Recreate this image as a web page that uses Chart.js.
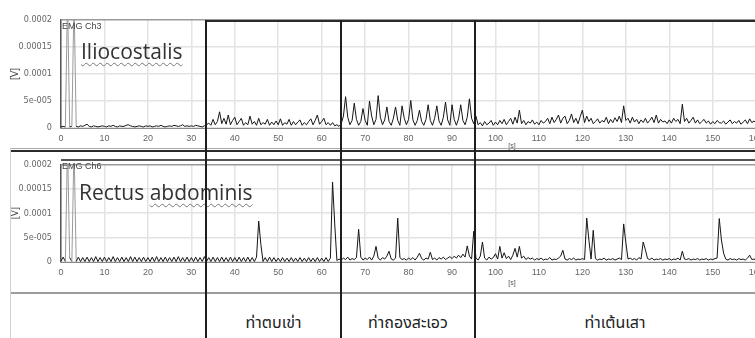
<!DOCTYPE html>
<html>
<head>
<meta charset="utf-8">
<script src="https://cdn.jsdelivr.net/npm/chart.js@4.4.1/dist/chart.umd.min.js"></script>
<style>
  html, body { margin: 0; padding: 0; background: #fff; overflow: hidden; }
  #wrap { position: relative; width: 755px; height: 338px; overflow: hidden; background: #fff; }
  .pane { position: absolute; left: 0; }
  .rule { position: absolute; }
  .tag { position: absolute; font: 9px "Liberation Sans", Arial, sans-serif; color: #444; white-space: nowrap; }
  .muscle { position: absolute; font-family: "Open Sans", "Noto Sans", sans-serif; color: #333; white-space: nowrap; }
  .wavy { text-decoration: underline wavy #777; text-decoration-thickness: 1px; text-underline-offset: 3px; }
  .phase { position: absolute; font: 16px "Noto Sans Thai", "Tahoma", "DejaVu Sans", sans-serif; color: #222; white-space: nowrap; transform: translateX(-50%); }
</style>
</head>
<body>
<div id="wrap">
  <div class="pane" style="top:0"><canvas id="emgTop" width="965" height="150"></canvas></div>
  <div class="pane" style="top:150px"><canvas id="emgBottom" width="965" height="143"></canvas></div>
  <div class="tag" style="left:62px;top:21px">EMG Ch3</div>
  <div class="tag" style="left:62px;top:161px">EMG Ch6</div>
  <div class="muscle wavy" style="left:81px;top:37px;font-size:21px">Iliocostalis</div>
  <div class="muscle" style="left:79px;top:178px;font-size:21px">Rectus <span class="wavy">abdominis</span></div>
</div>
<script>
// Sample interval of the rectified EMG traces, seconds
const SAMPLE_DT = 0.5;

// Channel 3 (Iliocostalis), microvolts, one value per 0.5 s from t = 0
const ch3Iliocostalis = [
  2,3,2,240,2,3,240,3,2,4, 3,5,7,3,2,4,3,2,3,4,
  3,2,4,3,5,3,2,4,3,3, 5,6,4,3,2,3,4,3,2,4,
  3,4,2,3,4,3,5,3,2,3, 4,3,5,4,3,4,6,3,4,3,
  4,3,5,4,3,2,4,6,9,5, 16,6,12,30,8,18,7,24,6,14,
  20,6,12,18,5,10,6,22,7,12, 5,18,6,10,7,16,5,11,6,13,
  6,17,5,10,7,16,5,12,6,11, 15,5,10,6,12,17,6,14,24,7,
  12,18,6,10,5,10,4,6,3,8, 22,58,20,6,14,46,16,5,12,36,
  14,5,50,22,6,16,60,20,6,15, 39,12,5,18,39,14,5,41,18,6,
  16,51,15,5,14,33,12,5,16,43, 14,5,18,41,13,5,20,48,15,5,
  43,16,5,17,43,14,6,20,54,18, 8,22,6,10,4,12,6,9,14,5,
  11,6,14,8,16,6,12,18,7,20, 9,33,8,14,6,12,9,15,7,11,
  6,14,9,12,18,8,20,10,16,24, 9,18,22,8,14,26,10,18,8,21,
  33,10,22,12,18,8,12,17,9,14, 11,20,8,16,10,19,12,22,10,41,
  14,18,9,20,11,16,8,15,10,18, 9,14,20,10,24,9,16,11,13,8,
  15,9,18,12,16,8,44,12,18,9, 14,20,9,15,8,12,16,9,13,7,
  12,8,14,10,9,13,7,11,15,8, 12,9,14,7,11,15,8,17,10,13,
  9,14,8,12,16,9,13,10,15,8, 12,10,14,9,11
];

// Channel 6 (Rectus abdominis), microvolts, one value per 0.5 s from t = 0
const ch6RectusAbdominis = [
  2,10,1,240,9,1,240,1,10,1, 9,1,10,1,9,1,11,1,9,1,
  10,1,9,1,11,1,9,1,10,1, 9,1,11,1,10,1,9,1,10,1,
  9,1,10,1,11,1,9,1,10,1, 9,1,10,1,11,1,9,1,10,1,
  9,1,10,1,9,1,11,1,9,1, 10,1,9,1,10,1,9,1,10,1,
  9,1,10,1,9,1,10,1,9,1, 10,84,36,1,9,1,10,1,9,1,
  8,1,9,1,8,1,9,1,8,1, 9,1,8,1,9,1,8,1,9,1,
  8,1,9,1,8,164,78,3,6,4, 8,5,10,4,7,5,9,67,10,4,
  8,5,10,4,12,32,8,4,9,6, 12,22,6,4,8,90,9,5,7,4,
  8,5,9,4,10,18,7,4,8,6, 20,5,8,4,9,6,10,5,8,11,
  7,12,8,14,9,16,10,33,12,6, 63,8,4,12,41,8,4,10,6,9,
  17,6,32,8,19,7,12,5,14,28, 10,32,8,12,5,9,6,8,4,7,
  5,8,4,6,5,9,4,6,5,8, 12,24,6,4,7,5,8,4,6,5,
  7,5,90,45,6,65,7,4,6,5, 8,4,6,5,7,4,6,8,5,78,
  40,6,8,5,7,4,9,6,41,25, 7,5,8,4,6,5,7,4,6,5,
  7,4,6,5,8,4,22,6,5,7, 4,6,5,7,4,6,5,7,4,6,
  5,7,8,89,45,18,6,4,7,5, 6,4,7,5,6,4,8,14,5,6,
  4,7,5,6,4,7,5,6,4,7, 5,6,4,7,5
];

// Axis ticks
const xTicks = [0,10,20,30,40,50,60,70,80,90,100,110,120,130,140,150,160,170,180,190,200];
const yTickLabels = ['0', '5e-005', '0.0001', '0.00015', '0.0002'];
const X_RANGE = [0, 207.6];
const Y_RANGE = [0, 0.0002];

// Exercise phases along the time axis (s) and their names
const phaseStarts = [33.3, 64.4, 95.3];
const phaseNames = ['ท่าตบเข่า', 'ท่าถองสะเอว', 'ท่าเต้นเสา'];

const toSeries = (uV) => uV.map((v, i) => ({ x: i * SAMPLE_DT, y: v * 1e-6 }));

// Off-scale (clipped) excursions are drawn in a lighter grey
const offScale = (ctx) =>
  (ctx.p0.parsed.y > Y_RANGE[1] || ctx.p1.parsed.y > Y_RANGE[1]) ? '#9a9a9a' : undefined;

function emgChart(canvasId, values, padTop, xAxisHeight, titlePadBottom) {
  return new Chart(document.getElementById(canvasId), {
    type: 'line',
    data: {
      datasets: [{
        data: toSeries(values),
        borderColor: '#151515',
        borderWidth: 1,
        pointRadius: 0,
        tension: 0,
        fill: false,
        segment: { borderColor: offScale }
      }]
    },
    options: {
      responsive: false,
      animation: false,
      events: [],
      layout: { padding: { top: padTop, right: 2, bottom: 0, left: 0 } },
      plugins: { legend: { display: false }, tooltip: { enabled: false } },
      scales: {
        x: {
          type: 'linear',
          min: X_RANGE[0],
          max: X_RANGE[1],
          afterBuildTicks: (s) => { s.ticks = xTicks.map(v => ({ value: v })); },
          afterFit: (s) => { s.height = xAxisHeight; },
          grid: { color: '#e3e3e3', lineWidth: 1.5, drawTicks: false },
          border: { color: '#8a8a8a', width: 1 },
          ticks: {
            padding: 5,
            autoSkip: false,
            maxRotation: 0,
            color: '#666',
            font: { family: '"Liberation Sans", Arial, sans-serif', size: 9 },
            callback: (v) => String(v)
          },
          title: {
            display: true,
            text: '[s]',
            color: '#555',
            font: { family: '"Liberation Sans", Arial, sans-serif', size: 7 },
            padding: { top: 0, bottom: titlePadBottom }
          }
        },
        y: {
          min: Y_RANGE[0],
          max: Y_RANGE[1],
          afterBuildTicks: (s) => { s.ticks = yTickLabels.map((_, i) => ({ value: i * 0.00005 })); },
          afterFit: (s) => { s.width = 61; },
          grid: {
            color: (ctx) => (ctx.index === yTickLabels.length - 1 ? '#9a9a9a' : '#e3e3e3'),
            lineWidth: 1.5,
            drawTicks: false
          },
          border: { color: '#555', width: 1.5 },
          ticks: {
            padding: 9,
            color: '#666',
            font: { family: '"Liberation Sans Narrow", "DejaVu Sans Condensed", sans-serif', size: 9 },
            callback: (v, i) => yTickLabels[i]
          },
          title: {
            display: true,
            text: '[V]',
            color: '#444',
            font: { family: '"Liberation Sans", Arial, sans-serif', size: 10 },
            padding: { top: 9, bottom: 0 }
          }
        }
      }
    }
  });
}

const topChart = emgChart('emgTop', ch3Iliocostalis, 20, 22, 0);
const bottomChart = emgChart('emgBottom', ch6RectusAbdominis, 10, 31, 6);

// Table grid drawn over both panels, anchored to the shared time axis
const wrap = document.getElementById('wrap');
function rule(x, y, w, h, color) {
  const d = document.createElement('div');
  d.className = 'rule';
  Object.assign(d.style, { left: x + 'px', top: y + 'px', width: w + 'px', height: h + 'px', background: color });
  wrap.appendChild(d);
}
const xs = topChart.scales.x;
const phaseX = phaseStarts.map(t => Math.round(xs.getPixelForValue(t)));
const rightEdge = 755;

rule(10, 148, rightEdge - 10, 1, '#a8a8a8');
rule(10, 150, rightEdge - 10, 2, '#2a2a2a');
rule(61, 159, rightEdge - 61, 2, '#555');
rule(10, 292, rightEdge - 10, 2, '#9c9c9c');
rule(10, 148, 1, 190, '#d0d0d0');
rule(phaseX[0], 20, rightEdge - phaseX[0], 2, '#2a2a2a');
phaseX.forEach(x => rule(x - 1, 20, 2, 318, '#1e1e1e'));

phaseNames.forEach((name, i) => {
  const x0 = phaseX[i];
  const x1 = i + 1 < phaseX.length ? phaseX[i + 1] : rightEdge;
  const d = document.createElement('div');
  d.className = 'phase';
  d.textContent = name;
  d.style.left = ((x0 + x1) / 2) + 'px';
  d.style.top = '311px';
  wrap.appendChild(d);
});
</script>
</body>
</html>
